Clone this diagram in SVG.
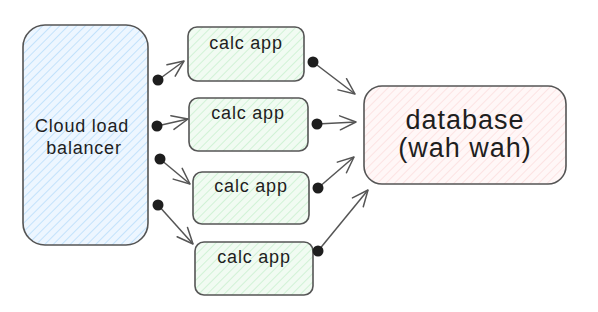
<svg xmlns="http://www.w3.org/2000/svg" width="598" height="312" viewBox="0 0 598 312">
  <defs>
    <pattern id="hBlue" patternUnits="userSpaceOnUse" width="6" height="6" patternTransform="rotate(45)">
      <rect width="6" height="6" fill="#edf6ff"/>
      <line x1="0" y1="0" x2="0" y2="6" stroke="#b9ddfb" stroke-width="1.6"/>
    </pattern>
    <pattern id="hGreen" patternUnits="userSpaceOnUse" width="6" height="6" patternTransform="rotate(45)">
      <rect width="6" height="6" fill="#f1fbf2"/>
      <line x1="0" y1="0" x2="0" y2="6" stroke="#c9f0cf" stroke-width="1.6"/>
    </pattern>
    <pattern id="hPink" patternUnits="userSpaceOnUse" width="6" height="6" patternTransform="rotate(45)">
      <rect width="6" height="6" fill="#fff7f7"/>
      <line x1="0" y1="0" x2="0" y2="6" stroke="#fcdede" stroke-width="1.6"/>
    </pattern>
    <marker id="arr" markerUnits="userSpaceOnUse" markerWidth="24" markerHeight="24" viewBox="-20 -12 24 24" refX="0" refY="0" orient="auto">
      <path d="M -16 -7 L 0 0 L -16 7" fill="none" stroke="#555" stroke-width="1.5" stroke-linecap="round" stroke-linejoin="round"/>
    </marker>
    <style>
      .box { stroke: #555; stroke-width: 1.6; }
      .lbl { font-family: "Liberation Sans", Arial, sans-serif; fill: #1e1e1e; text-anchor: middle; }
      .small { font-size: 18px; letter-spacing: 0.8px; }
      .big { font-size: 27px; letter-spacing: 1px; }
      .conn line { stroke: #555; stroke-width: 1.5; marker-end: url(#arr); }
      .conn circle { fill: #1e1e1e; }
    </style>
  </defs>

  <g id="load-balancer">
    <rect class="box" x="23" y="25" width="125" height="220" rx="22" fill="url(#hBlue)"/>
    <text class="lbl small" x="82" y="132">Cloud load</text>
    <text class="lbl small" x="84" y="154">balancer</text>
  </g>

  <g id="calc-app-1">
    <rect class="box" x="188" y="27" width="116" height="54" rx="9" fill="url(#hGreen)"/>
    <text class="lbl small" x="246" y="49">calc app</text>
  </g>
  <g id="calc-app-2">
    <rect class="box" x="189" y="98" width="119" height="53" rx="9" fill="url(#hGreen)"/>
    <text class="lbl small" x="248" y="119">calc app</text>
  </g>
  <g id="calc-app-3">
    <rect class="box" x="193" y="172" width="116" height="52" rx="9" fill="url(#hGreen)"/>
    <text class="lbl small" x="251" y="192">calc app</text>
  </g>
  <g id="calc-app-4">
    <rect class="box" x="195" y="242" width="118" height="53" rx="9" fill="url(#hGreen)"/>
    <text class="lbl small" x="254" y="263">calc app</text>
  </g>

  <g id="database">
    <rect class="box" x="364" y="86" width="202" height="98" rx="18" fill="url(#hPink)"/>
    <text class="lbl big" x="465" y="129">database</text>
    <text class="lbl big" x="465" y="157">(wah wah)</text>
  </g>

  <g id="connectors" class="conn">
    <line x1="158" y1="80" x2="184" y2="61"/>
    <circle cx="158" cy="80" r="5.5"/>
    <line x1="157" y1="126" x2="188" y2="119"/>
    <circle cx="157" cy="126" r="5.5"/>
    <line x1="160" y1="159" x2="190" y2="184"/>
    <circle cx="160" cy="159" r="5.5"/>
    <line x1="158" y1="205" x2="193" y2="244"/>
    <circle cx="158" cy="205" r="5.5"/>

    <line x1="313" y1="62" x2="355" y2="94"/>
    <circle cx="313" cy="62" r="5.5"/>
    <line x1="317" y1="124" x2="356" y2="122"/>
    <circle cx="317" cy="124" r="5.5"/>
    <line x1="318" y1="188" x2="354" y2="157"/>
    <circle cx="318" cy="188" r="5.5"/>
    <line x1="318" y1="251" x2="368" y2="190"/>
    <circle cx="318" cy="251" r="5.5"/>
  </g>
</svg>
